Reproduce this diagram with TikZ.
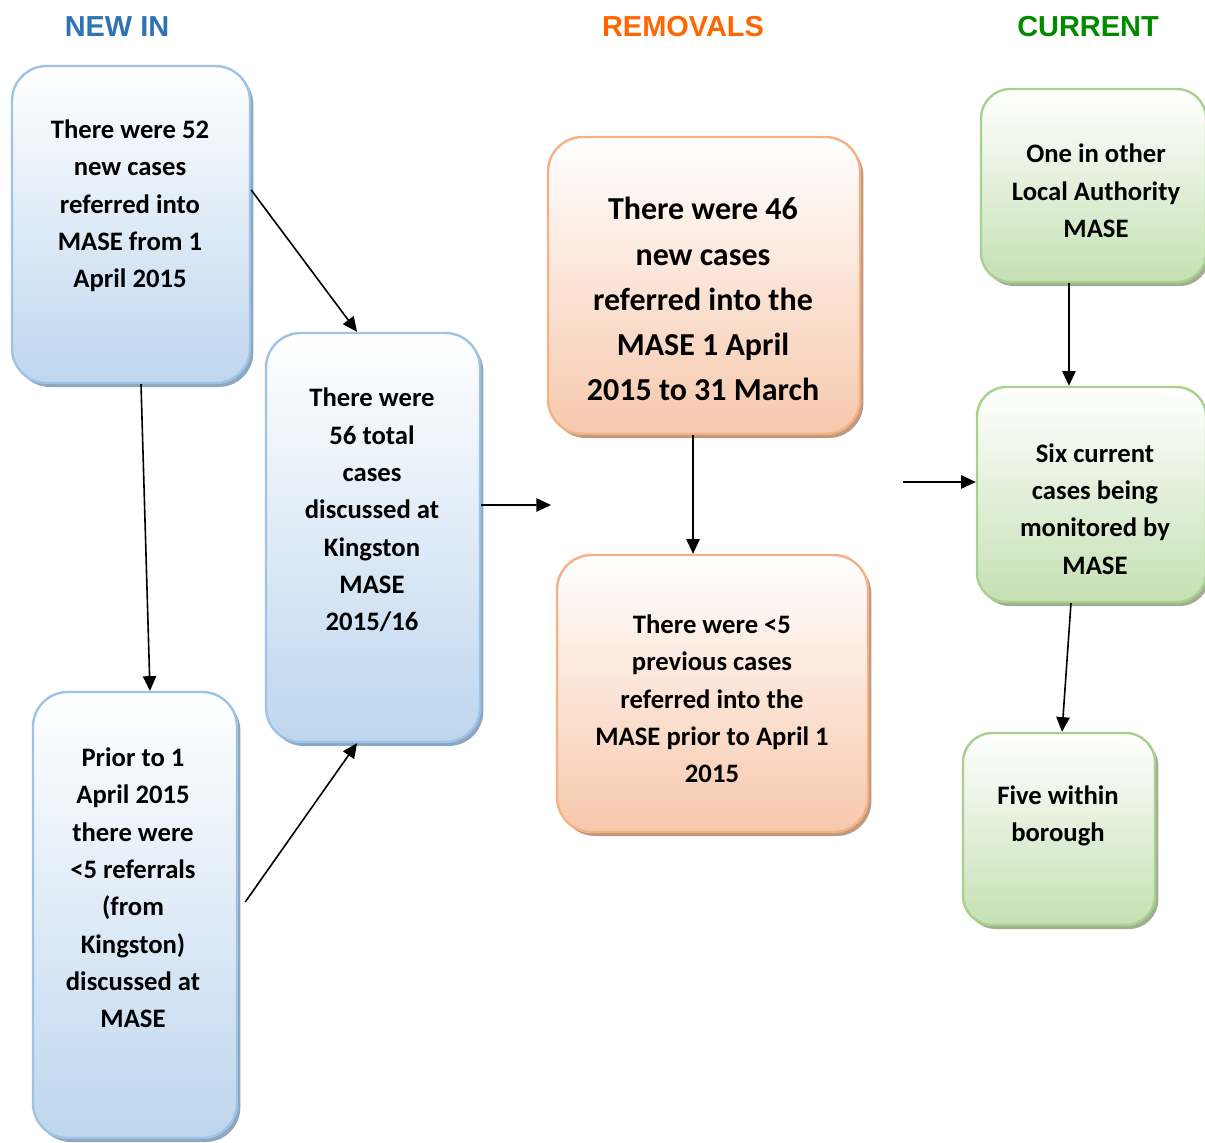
\documentclass[tikz,border=0pt]{standalone}
\usepackage{fontspec}
\setmainfont{Carlito}
\newfontfamily\headfont{Liberation Sans}
\usepackage{tikz}
\usepackage{xcolor}
\usetikzlibrary{shapes,arrows.meta,positioning,shadows}

\definecolor{newline}{RGB}{157,195,230}
\definecolor{newfill}{RGB}{190,214,238}
\definecolor{newshade}{RGB}{142,166,190}
\definecolor{remline}{RGB}{244,177,131}
\definecolor{remfill}{RGB}{247,200,172}
\definecolor{remshade}{RGB}{192,154,128}
\definecolor{curline}{RGB}{169,209,142}
\definecolor{curfill}{RGB}{197,224,180}
\definecolor{curshade}{RGB}{160,175,145}
\definecolor{newhead}{RGB}{46,116,181}
\definecolor{remhead}{RGB}{255,102,0}
\definecolor{curhead}{RGB}{0,138,0}

\begin{document}
\begin{tikzpicture}[
        x=0.75pt, y=-0.75pt,
        card/.style={rectangle, rounded corners=26pt, line width=1.8pt, inner sep=0pt},
        newbox/.style={card, draw=newline, top color=white, bottom color=newfill,
            drop shadow={shadow xshift=2.5pt, shadow yshift=-3pt, opacity=1, fill=newshade}},
        rembox/.style={card, draw=remline, top color=white, bottom color=remfill,
            drop shadow={shadow xshift=2.5pt, shadow yshift=-3pt, opacity=1, fill=remshade}},
        curbox/.style={card, rounded corners=22pt, draw=curline, top color=white, bottom color=curfill,
            drop shadow={shadow xshift=2.5pt, shadow yshift=-3pt, opacity=1, fill=curshade}},
        txt/.style={align=center, font=\bfseries\fontsize{20}{28}\selectfont},
        bigtxt/.style={align=center, font=\bfseries\fontsize{24}{33.8}\selectfont},
        head/.style={font=\headfont\bfseries\fontsize{21.7}{26}\selectfont},
        line/.style={draw, line width=1.2pt, -{Triangle[length=11pt, width=10pt]}}
    ]
        \useasboundingbox (0,0) rectangle (1205,1142);

        % Headings
        \node[head, text=newhead] (hnew) at (117,27) {NEW IN};
        \node[head, text=remhead] (hrem) at (683,27) {REMOVALS};
        \node[head, text=curhead] (hcur) at (1088,27) {CURRENT};

        % New in
        \node[newbox, minimum width=178.5pt, minimum height=237.75pt] (newA) at (131,224.5) {};
        \node[txt] (newAt) at (130,206) {There were 52\\new cases\\referred into\\MASE from 1\\April 2015};
        \node[newbox, minimum width=160.5pt, minimum height=306.75pt] (total) at (373,537.5) {};
        \node[txt] (totalt) at (372,510) {There were\\56 total\\cases\\discussed at\\Kingston\\MASE\\2015/16};
        \node[newbox, minimum width=153pt, minimum height=334.5pt] (prior) at (135,915) {};
        \node[txt] (priort) at (133,888) {Prior to 1\\April 2015\\there were\\<5 referrals\\(from\\Kingston)\\discussed at\\MASE};

        % Removals
        \node[rembox, minimum width=234pt, minimum height=222.75pt] (remA) at (704,285.5) {};
        \node[bigtxt] (remAt) at (703,299) {There were 46\\new cases\\referred into the\\MASE 1 April\\2015 to 31 March};
        \node[rembox, minimum width=233.25pt, minimum height=207.75pt] (remB) at (712.5,693.5) {};
        \node[txt] (remBt) at (712,699) {There were <5\\previous cases\\referred into the\\MASE prior to April 1\\2015};

        % Current
        \node[curbox, minimum width=168.75pt, minimum height=144.75pt] (curA) at (1093.5,185.5) {};
        \node[txt] (curAt) at (1096,191) {One in other\\Local Authority\\MASE};
        \node[curbox, minimum width=171.75pt, minimum height=161.25pt] (curB) at (1091.5,494.5) {};
        \node[txt] (curBt) at (1095,509) {Six current\\cases being\\monitored by\\MASE};
        \node[curbox, minimum width=144pt, minimum height=144pt] (curC) at (1059,829) {};
        \node[txt] (curCt) at (1058,816) {Five within\\borough};

        % Loose ends
        \coordinate (gapA) at (551,505);
        \coordinate (gapB) at (903,482);

        % Connections
        \draw[line] ([yshift=25.9pt]newA.east) -- ([xshift=-12pt]total.north);
        \draw[line] ([xshift=7.5pt]newA.south) -- ([xshift=11.25pt]prior.north);
        \draw[line] ([xshift=5.25pt,yshift=9.75pt]prior.east) -- ([xshift=-12pt]total.south);
        \draw[line] ([yshift=24.4pt]total.east) -- (gapA);
        \draw[line] ([xshift=-8.25pt]remA.south) -- ([xshift=-14.6pt]remB.north);
        \draw[line] (gapB) -- ([yshift=9.4pt]curB.west);
        \draw[line] ([xshift=-18.4pt]curA.south) -- ([xshift=-16.9pt]curB.north);
        \draw[line] ([xshift=-15.4pt]curB.south) -- ([xshift=2.25pt]curC.north);
    \end{tikzpicture}
\end{document}
